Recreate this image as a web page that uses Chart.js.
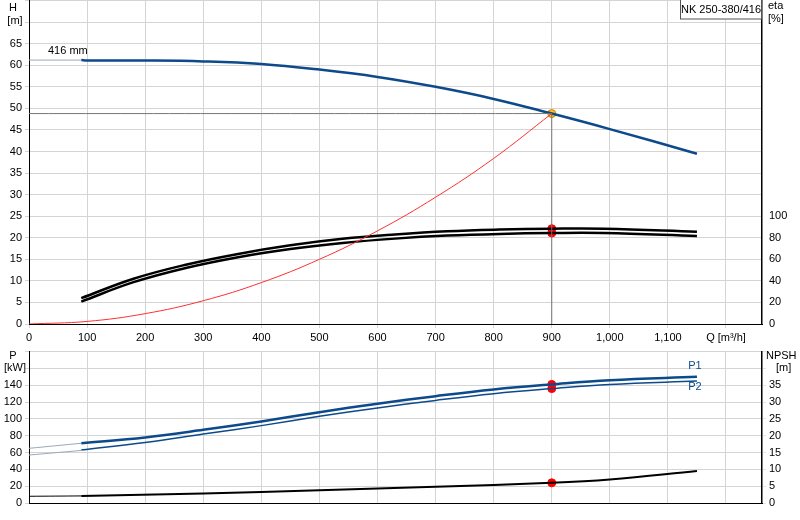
<!DOCTYPE html>
<html><head><meta charset="utf-8">
<script src="https://cdn.jsdelivr.net/npm/chart.js@4/dist/chart.umd.min.js"></script>
<style>body{margin:0;background:#fff;font-family:"Liberation Sans",Arial,sans-serif;overflow:hidden}
#c1{position:absolute;left:0;top:-9px}#c2{position:absolute;left:0;top:342px}</style>
</head><body>
<canvas id="c1" width="800" height="354"></canvas>
<canvas id="c2" width="800" height="178"></canvas>
<script>
const qH=[90,100,200,300,400,500,600,700,800,900,1000,1150];
const H=[61.2,61.1,61.1,60.9,60.3,59,57.3,55,52.2,48.8,45.2,39.5];
const qEta=[90,180,270,360,450,540,630,720,810,900,990,1150];
const etaUpper=[24,42,55,65,73,79,83,86,87.6,88.4,88.4,85.6];
const etaLower=[20.8,38.8,52,62,69.6,75.2,79.2,82,83.6,84.4,84.4,81.6];
const qSys=[0,100,200,300,400,500,600,700,800,900];
const hSys=[0,0.6,2.4,5.4,9.6,15,21.6,29.4,38.4,48.8];
const qP=[90,200,300,400,500,600,700,800,900,1000,1150];
const P1=[71,78,87,97,108,118,127,135,141,146,150];
const P2=[63,72,82,92,103,113,122,130,136,141,145];
const qN=[90,300,500,700,900,1000,1150];
const NPSH=[2.1,2.8,3.8,4.8,6,7,9.5];
const dutyQ=900, dutyH=48.8, dutyEta=[88.4,84.4], dutyP=[141,136], dutyNPSH=6;
const xTicks=[0,100,200,300,400,500,600,700,800,900,1000,1100,1200];
const hStart=61.2, p1Start=65, p2Start=57, npshStart=2;

const pts=(xs,ys)=>xs.map((x,i)=>({x,y:ys[i]}));
const grid='#d4d4d4', F={family:'"Liberation Sans",Arial',size:11};
Chart.defaults.font=F; Chart.defaults.color='#000';
const fixX=a=>{a.ticks=xTicks.map(v=>({value:v}));};
function line(data,color,w,axis){return {data,showLine:true,borderColor:color,borderWidth:w,pointRadius:0,yAxisID:axis,tension:0.4,fill:false};}
function dots(data,color,axis){return {data,showLine:false,pointRadius:4,pointBackgroundColor:color,pointBorderColor:color,yAxisID:axis};}

const textPlugin=(dy,items)=>({id:'t',afterDraw(c){const x=c.ctx;x.save();x.font='11px "Liberation Sans",Arial';
 items.forEach(t=>{x.fillStyle=t.c||'#000';x.textAlign=t.a||'center';x.fillText(t.s,t.x,t.y+dy);});
 x.restore();}});

new Chart(document.getElementById('c1'),{type:'scatter',
 data:{datasets:[
  line([{x:0,y:dutyH},{x:dutyQ,y:dutyH}],'#777',1,'y'),
  line([{x:dutyQ,y:0},{x:dutyQ,y:dutyH}],'#777',1,'y'),
  line(pts(qSys,hSys),'#ff3030',1,'y'),
  line([{x:0,y:hStart},{x:90,y:hStart}],'#9aa8b8',1,'y'),
  line(pts(qH,H),'#0d4a8c',2.5,'y'),
  line(pts(qEta,etaUpper),'#000',2.5,'eta'),
  line(pts(qEta,etaLower),'#000',2.5,'eta'),
  dots(dutyEta.map(v=>({x:dutyQ,y:v})),'#ff0000','eta'),
  {data:[{x:dutyQ,y:dutyH}],showLine:false,pointRadius:4,pointBackgroundColor:'#ffc020',pointBorderColor:'#d08000',yAxisID:'y'}
 ]},
 options:{responsive:false,animation:false,layout:{padding:0},
  plugins:{legend:{display:false},tooltip:{enabled:false}},
  scales:{
   x:{type:'linear',min:0,max:1262,afterBuildTicks:fixX,grid:{color:grid,tickLength:4},border:{color:'#000'},
      ticks:{maxRotation:0,autoSkip:false,callback:v=>v===1200?'Q [m³/h]':v.toLocaleString('en-US')},afterFit:a=>{a.height=21}},
   y:{min:0,max:75,ticks:{stepSize:5,callback:v=>v<=65?v:''},grid:{color:grid,tickLength:4},border:{color:'#000'},afterFit:a=>{a.width=29}},
   eta:{position:'right',min:0,max:300,ticks:{stepSize:20,callback:v=>v<=100?v:''},grid:{display:false,drawOnChartArea:false,tickLength:4},border:{color:'#000',width:1.5},afterFit:a=>{a.width=38}}
  }},
 plugins:[textPlugin(9,[{s:'H',x:13,y:11},{s:'[m]',x:15,y:24},{s:'eta',x:768,y:9,a:'left'},{s:'[%]',x:768,y:22,a:'left'},{s:'416 mm',x:48,y:54,a:'left'}]),
  {id:'box',afterDraw(c){const x=c.ctx;x.save();x.fillStyle='#fff';x.fillRect(680,9,82,19);x.strokeStyle='#555';x.strokeRect(680.5,8,81,20);
   x.fillStyle='#000';x.font='11px "Liberation Sans",Arial';x.textAlign='center';x.fillText('NK 250-380/416',721,22);x.restore();}}]
});

new Chart(document.getElementById('c2'),{type:'scatter',
 data:{datasets:[
  line([{x:0,y:p1Start},{x:90,y:P1[0]}],'#9aa8b8',1,'y'),
  line([{x:0,y:p2Start},{x:90,y:P2[0]-0.5}],'#9aa8b8',1,'y'),
  line(pts(qP,P1),'#0d4a8c',2.5,'y'),
  line(pts(qP,P2),'#0d4a8c',1.5,'y'),
  line([{x:0,y:npshStart},{x:90,y:NPSH[0]}],'#000',1,'n'),
  line(pts(qN,NPSH),'#000',2,'n'),
  dots(dutyP.map(v=>({x:dutyQ,y:v})),'#ff0000','y'),
  dots([{x:dutyQ,y:dutyNPSH}],'#ff0000','n')
 ]},
 options:{responsive:false,animation:false,layout:{padding:{top:0,right:0,left:0,bottom:0}},
  plugins:{legend:{display:false},tooltip:{enabled:false}},
  scales:{
   x:{type:'linear',min:0,max:1262,afterBuildTicks:fixX,grid:{color:grid,tickLength:0},border:{color:'#000'},ticks:{display:false},afterFit:a=>{a.height=17}},
   y:{min:0,max:180,ticks:{stepSize:20,callback:v=>v<=140?v:''},grid:{color:grid,tickLength:4},border:{color:'#000'},afterFit:a=>{a.width=29}},
   n:{position:'right',min:0,max:45,ticks:{stepSize:5,callback:v=>v<=35?v:''},grid:{drawOnChartArea:false,tickLength:4},border:{color:'#000',width:1.5},afterFit:a=>{a.width=38}}
  }},
 plugins:[textPlugin(0,[{s:'P',x:13,y:17},{s:'[kW]',x:15,y:29},{s:'NPSH',x:766,y:17,a:'left'},{s:'[m]',x:776,y:29,a:'left'},
  {s:'P1',x:695,y:27,c:'#0d4a8c'},{s:'P2',x:695,y:48,c:'#0d4a8c'}])]
});
</script></body></html>
